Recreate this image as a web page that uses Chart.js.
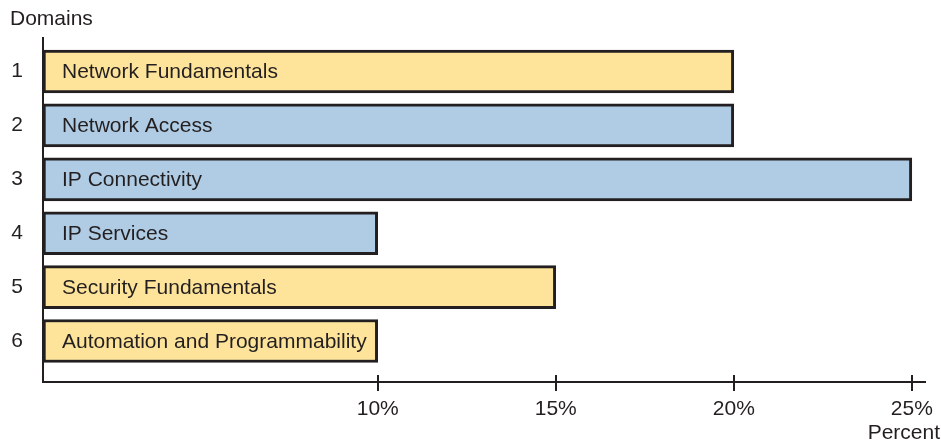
<!DOCTYPE html>
<html>
<head>
<meta charset="utf-8">
<script src="https://cdn.jsdelivr.net/npm/chart.js@4/dist/chart.umd.min.js"></script>
<style>
  html, body { margin: 0; padding: 0; background: #fff; }
  #wrap { width: 941px; height: 442px; }
</style>
</head>
<body>
<div id="wrap"><canvas id="chart"></canvas></div>
<script>
// data
const domainNumbers = [1, 2, 3, 4, 5, 6];
const domainNames = ['Network Fundamentals', 'Network Access', 'IP Connectivity',
                     'IP Services', 'Security Fundamentals', 'Automation and Programmability'];
const percentValues = [20, 20, 25, 10, 15, 10];
const percentTicks = [10, 15, 20, 25];

// styles
const yellow = '#fee49a';
const blue = '#b0cce4';
const ink = '#231f20';
const barColors = [yellow, blue, blue, blue, yellow, yellow];
const fontFamily = '"Liberation Sans", Arial, sans-serif';
const xMin = 0.6, xMax = 25.37;

const labelPlugin = {
    id: 'labels',
    afterDatasetsDraw(chart) {
        const ctx = chart.ctx;
        const meta = chart.getDatasetMeta(0);
        ctx.save();
        ctx.fillStyle = ink;
        ctx.font = '21px ' + fontFamily;
        ctx.textBaseline = 'middle';
        ctx.textAlign = 'left';
        meta.data.forEach(function(bar, i) {
            ctx.fillText(domainNames[i], bar.base + 19, bar.y + 1);
        });
        ctx.restore();
    },
    afterDraw(chart) {
        const ctx = chart.ctx;
        const xs = chart.scales.x;
        const area = chart.chartArea;
        ctx.save();
        // tick marks crossing the axis
        ctx.strokeStyle = ink;
        ctx.lineWidth = 2;
        percentTicks.forEach(function(v) {
            const px = Math.round(xs.getPixelForValue(v));
            ctx.beginPath();
            ctx.moveTo(px, area.bottom - 7);
            ctx.lineTo(px, area.bottom + 9);
            ctx.stroke();
        });
        ctx.fillStyle = ink;
        ctx.font = '21px ' + fontFamily;
        ctx.textBaseline = 'alphabetic';
        ctx.textAlign = 'left';
        ctx.fillText('Domains', 10, 25);
        ctx.textAlign = 'right';
        ctx.fillText('Percent', 940, 439);
        ctx.restore();
    }
};

new Chart(document.getElementById('chart'), {
    type: 'bar',
    data: {
        datasets: [{
            data: domainNumbers.map(function(n, i) { return { x: percentValues[i], y: n }; }),
            base: xMin,
            backgroundColor: barColors,
            borderColor: ink,
            borderWidth: 3,
            borderSkipped: false,
            barThickness: 43
        }]
    },
    options: {
        indexAxis: 'y',
        responsive: true,
        maintainAspectRatio: false,
        animation: false,
        layout: { padding: { top: 38, right: 16, left: 0, bottom: 0 } },
        plugins: { legend: { display: false }, tooltip: { enabled: false } },
        scales: {
            x: {
                type: 'linear',
                min: xMin,
                max: xMax,
                offset: false,
                grid: { display: false },
                border: { color: ink, width: 2 },
                afterBuildTicks: function(scale) {
                    scale.ticks = percentTicks.map(function(v) { return { value: v }; });
                },
                afterFit: function(scale) {
                    scale.height = 60;
                    scale.paddingLeft = 0;
                    scale.paddingRight = 0;
                },
                ticks: {
                    color: ink,
                    padding: 7,
                    font: { family: fontFamily, size: 21 },
                    callback: function(v) { return v + '%'; }
                }
            },
            y: {
                type: 'linear',
                reverse: true,
                min: 0.378,
                max: 6.76,
                offset: false,
                grid: { display: false },
                border: { color: ink, width: 2 },
                afterBuildTicks: function(scale) {
                    scale.ticks = domainNumbers.map(function(v) { return { value: v }; });
                },
                afterFit: function(scale) {
                    scale.width = 43;
                    scale.paddingTop = 0;
                    scale.paddingBottom = 0;
                },
                ticks: {
                    color: ink,
                    padding: 12,
                    font: { family: fontFamily, size: 21 },
                    callback: function(v) { return String(v); }
                }
            }
        }
    },
    plugins: [labelPlugin]
});
</script>
</body>
</html>
